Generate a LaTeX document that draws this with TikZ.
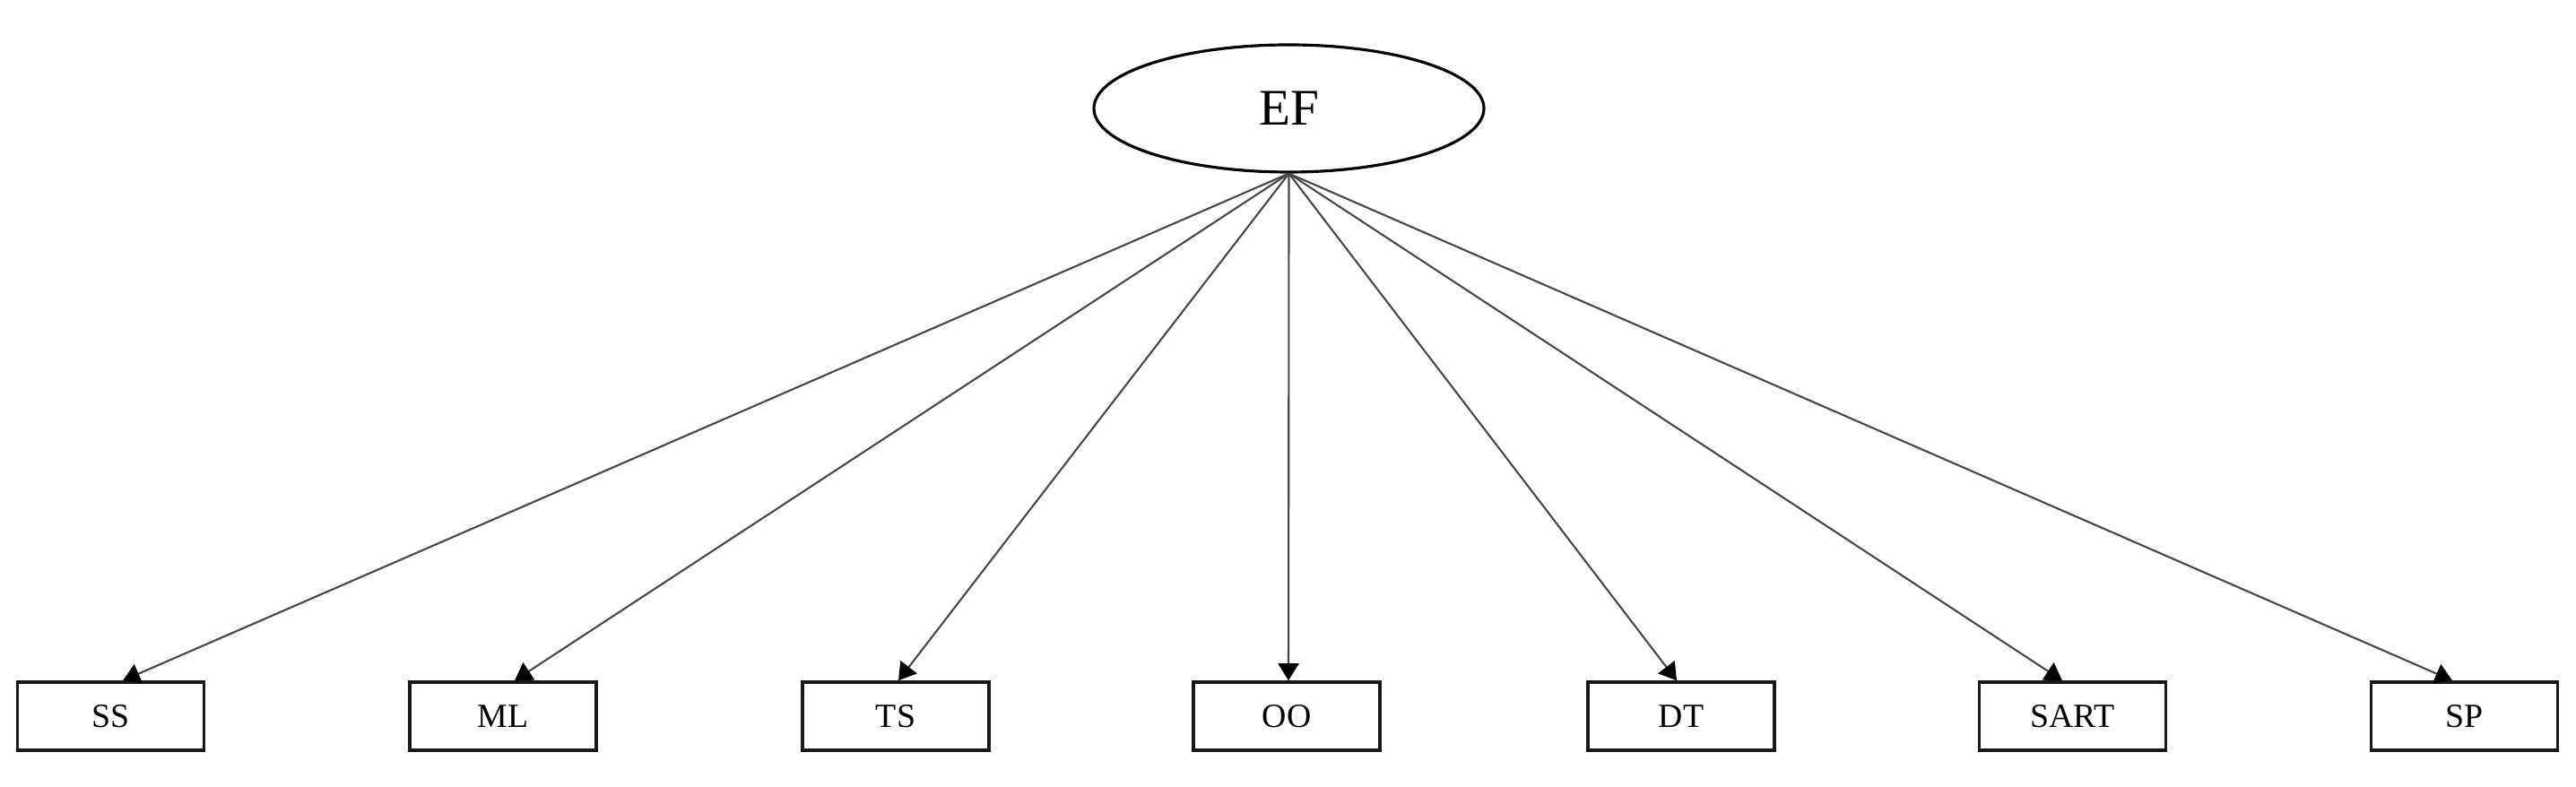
\documentclass[tikz,border=0pt]{standalone}
\usepackage{fontspec}
\setmainfont{Liberation Serif}
\usetikzlibrary{shapes.geometric,arrows.meta,calc}
\begin{document}
\begin{tikzpicture}[
  varbox/.style={draw=black!90, line width=1pt, rectangle, minimum width=2.08cm, minimum height=0.76cm, inner sep=0pt, fill=white, font=\fontsize{10.75}{12}\selectfont},
  latent/.style={draw=black, line width=0.9pt, ellipse, minimum width=4.35cm, minimum height=1.42cm, inner sep=0pt, font=\fontsize{16.3}{18}\selectfont},
  load/.style={draw=black!72, line width=0.6pt, -{Triangle[length=0.19cm,width=0.23cm,color=black]}}
]
\useasboundingbox (0,0) rectangle (28.73,8.78);
\node[latent] (EF) at (14.375,7.57) {EF};
\node[varbox] (SS)   at (1.235,0.79) {SS};
\node[varbox] (ML)   at (5.61,0.79) {ML};
\node[varbox] (TS)   at (9.99,0.79) {TS};
\node[varbox] (OO)   at (14.35,0.79) {OO};
\node[varbox] (DT)   at (18.75,0.79) {DT};
\node[varbox] (SART) at (23.115,0.79) {SART};
\node[varbox] (SP)   at (27.485,0.79) {SP};
\coordinate (tSS)   at ($(SS.north)+(0.135,0)$);
\coordinate (tML)   at ($(ML.north)+(0.13,0)$);
\coordinate (tTS)   at ($(TS.north)+(0.03,0)$);
\coordinate (tOO)   at ($(OO.north)+(0.02,0)$);
\coordinate (tDT)   at ($(DT.north)+(-0.05,0)$);
\coordinate (tSART) at ($(SART.north)+(-0.115,0)$);
\coordinate (tSP)   at ($(SP.north)+(-0.135,0)$);
\foreach \t in {tSS,tML,tTS,tOO,tDT,tSART,tSP}{
  \draw[load] (EF.south) -- (\t);
}
\end{tikzpicture}
\end{document}
